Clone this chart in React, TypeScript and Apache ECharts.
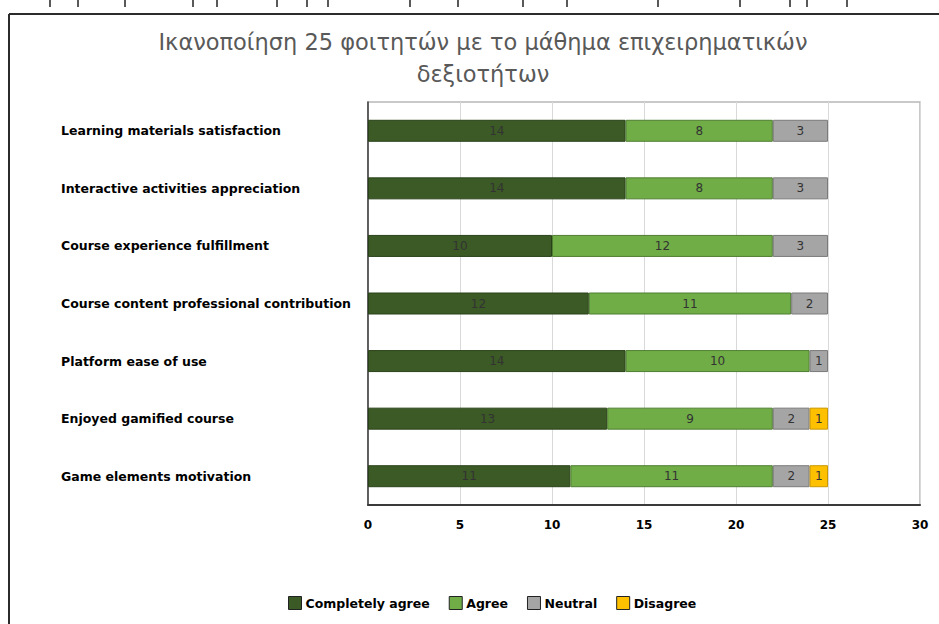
import React, { useEffect, useRef } from "react";
import * as echarts from "echarts";

const categories = [
  "Learning materials satisfaction",
  "Interactive activities appreciation",
  "Course experience fulfillment",
  "Course content professional contribution",
  "Platform ease of use",
  "Enjoyed gamified course",
  "Game elements motivation",
];
const completelyAgree = [14, 14, 10, 12, 14, 13, 11];
const agree = [8, 8, 12, 11, 10, 9, 11];
const neutral = [3, 3, 3, 2, 1, 2, 2];
const disagree = [0, 0, 0, 0, 0, 1, 1];
const xTicks = [0, 5, 10, 15, 20, 25, 30];

const seriesDefs = [
  { name: "Completely agree", data: completelyAgree, color: "#3b5a25", border: "#2a421a" },
  { name: "Agree", data: agree, color: "#70ad47", border: "#4f7e31" },
  { name: "Neutral", data: neutral, color: "#a5a5a5", border: "#7a7a7a" },
  { name: "Disagree", data: disagree, color: "#ffc000", border: "#c99700" },
];

const topMarks = [50, 78, 125, 193, 217, 277, 307, 328, 410, 458, 523, 567, 658, 740, 790, 807, 847];

export default function App() {
  const ref = useRef<HTMLDivElement>(null);
  useEffect(() => {
    if (!ref.current) return;
    const chart = echarts.init(ref.current, null, { renderer: "svg" });
    const font = "DejaVu Sans";
    chart.setOption({
      animation: false,
      backgroundColor: "#ffffff",
      title: {
        text: "Ικανοποίηση 25 φοιτητών με το μάθημα επιχειρηματικών\nδεξιοτήτων",
        left: 478,
        textAlign: "center",
        top: 21,
        textStyle: {
          fontFamily: font,
          fontSize: 22.5,
          fontWeight: "normal",
          color: "#595959",
          lineHeight: 32,
        },
      },
      legend: {
        bottom: 9,
        left: 283,
        itemWidth: 13,
        itemHeight: 13,
        itemGap: 19,
        icon: "rect",
        textStyle: { fontFamily: font, fontSize: 12.5, fontWeight: "bold", color: "#000", padding: [0, 0, 0, -1] },
        data: seriesDefs.map((s) => ({
          name: s.name,
          itemStyle: { color: s.color, borderColor: "#222", borderWidth: 1 },
        })),
      },
      grid: {
        left: 368,
        right: 19,
        top: 102,
        bottom: 119,
        show: true,
        borderColor: "#b8b8b8",
        borderWidth: 1.5,
      },
      xAxis: {
        type: "value",
        min: 0,
        max: 30,
        interval: 5,
        axisLine: { show: true, lineStyle: { color: "#3a3a3a", width: 2 } },
        axisTick: { show: false },
        splitLine: { show: true, lineStyle: { color: "#d9d9d9", width: 1 } },
        axisLabel: {
          margin: 14,
          fontFamily: font,
          fontSize: 12,
          fontWeight: "bold",
          color: "#000",
          formatter: (v: number) => (xTicks.includes(v) ? String(v) : ""),
        },
      },
      yAxis: {
        type: "category",
        inverse: true,
        data: categories,
        axisLine: { show: true, lineStyle: { color: "#3a3a3a", width: 1.5 } },
        axisTick: { show: false },
        axisLabel: {
          align: "left",
          margin: 307,
          fontFamily: font,
          fontSize: 12.5,
          fontWeight: "bold",
          color: "#000",
        },
      },
      series: seriesDefs.map((s) => ({
        name: s.name,
        type: "bar",
        stack: "total",
        barWidth: 22,
        data: s.data.map((v) => (v === 0 ? null : v)),
        itemStyle: { color: s.color, borderColor: s.border, borderWidth: 1 },
        label: {
          show: true,
          position: "inside",
          fontFamily: font,
          fontSize: 12,
          color: "#333333",
          formatter: (p: any) => (p.value ? String(p.value) : ""),
        },
      })),
      graphic: [
        { type: "line", shape: { x1: 9, y1: 14, x2: 939, y2: 14 }, style: { stroke: "#2b2b2b", lineWidth: 2 } },
        { type: "line", shape: { x1: 9, y1: 14, x2: 9, y2: 624 }, style: { stroke: "#2b2b2b", lineWidth: 2 } },
        ...topMarks.map((x) => ({
          type: "line",
          shape: { x1: x, y1: 0, x2: x, y2: 7 },
          style: { stroke: "#222", lineWidth: 1.5 },
        })),
      ],
    });
    return () => chart.dispose();
  }, []);
  return (
    <div
      ref={ref}
      style={{ position: "absolute", left: 0, top: 0, width: 939, height: 624 }}
    />
  );
}
